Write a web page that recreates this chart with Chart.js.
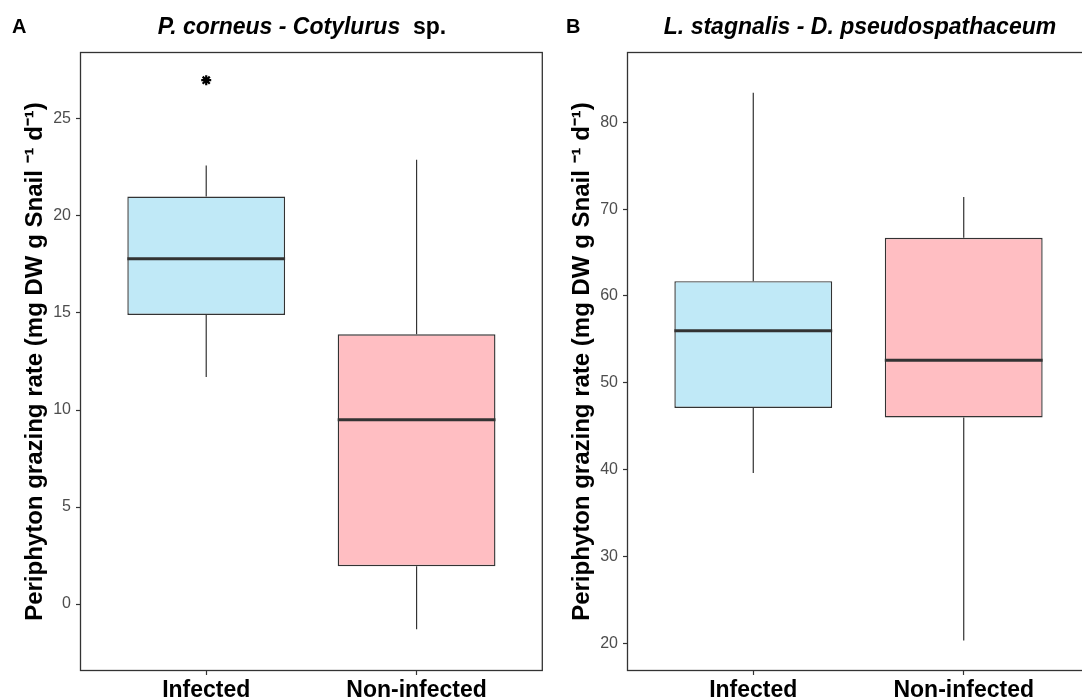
<!DOCTYPE html>
<html>
<head>
<meta charset="utf-8">
<script src="https://cdn.jsdelivr.net/npm/chart.js@4.4.1/dist/chart.umd.min.js"></script>
<style>
  html, body { margin: 0; padding: 0; width: 1082px; height: 699px; overflow: hidden; background: #fff;
    font-family: "Liberation Sans", Arial, sans-serif; }
  .panel { position: absolute; top: 0; width: 550px; height: 699px; }
  #panelA { left: 0; }
  #panelB { left: 547px; }
  .panel canvas { position: absolute; left: 0; top: 0; }
  .tag { position: absolute; top: 15px; font-weight: bold; font-size: 20px; color: #000; }
  .title { position: absolute; top: 13px; font-weight: bold; font-size: 23px; color: #000;
    white-space: nowrap; transform: translateX(-50%); }
</style>
</head>
<body>
<div class="panel" id="panelA">
  <canvas id="chartA" width="550" height="699"></canvas>
  <div class="tag" style="left:12px">A</div>
  <div class="title" style="left:302px"><i>P. corneus - Cotylurus</i>&nbsp; sp.</div>
</div>
<div class="panel" id="panelB">
  <canvas id="chartB" width="550" height="699"></canvas>
  <div class="tag" style="left:19px">B</div>
  <div class="title" style="left:313px"><i>L. stagnalis - D. pseudospathaceum</i></div>
</div>
<script>
// --- data ---
const categories = ["Infected", "Non-infected"];
const boxColors = ["#c0e9f7", "#ffbec2"];
const yTitle = "Periphyton grazing rate (mg DW g Snail \u207B\u00B9 d\u207B\u00B9)";

// panel A: P. corneus - Cotylurus sp.
const lowA = [11.7, -1.3];
const q1A = [14.9, 1.95];
const medA = [17.8, 9.5];
const q3A = [21.0, 13.9];
const highA = [22.6, 22.9];
const outA = [[27.0], []];
const ticksA = [0, 5, 10, 15, 20, 25];
const rangeA = [-3.45, 28.45];

// panel B: L. stagnalis - D. pseudospathaceum
const lowB = [39.6, 20.3];
const q1B = [47.1, 46.0];
const medB = [56.0, 52.6];
const q3B = [61.7, 66.7];
const highB = [83.4, 71.4];
const outB = [[], []];
const ticksB = [20, 30, 40, 50, 60, 70, 80];
const rangeB = [16.8, 88.1];

const BOX_W = 0.75;
const DARK = "#333333";

Chart.defaults.font.family = '"Liberation Sans", Arial, sans-serif';

// cadre autour du panneau
const panelBorder = {
  id: "panelBorder",
  afterDatasetsDraw(chart) {
    const { ctx, chartArea: { left, top, right, bottom } } = chart;
    ctx.save();
    ctx.strokeStyle = DARK;
    ctx.lineWidth = 1.3;
    ctx.strokeRect(left + 0.5, top + 0.5, right - left - 1, bottom - top - 1);
    ctx.restore();
  },
};

function makeBoxChart(id, low, q1, med, q3, high, outs, ticks, range) {
  const whiskers = [];
  const medians = [];
  const outliers = [];
  categories.forEach((c, i) => {
    const x = i + 1;
    whiskers.push({ x, y: low[i] }, { x, y: q1[i] }, { x, y: null },
                  { x, y: q3[i] }, { x, y: high[i] }, { x, y: null });
    medians.push({ x: x - BOX_W / 2, y: med[i] }, { x: x + BOX_W / 2, y: med[i] }, { x: x + 0.5, y: null });
    outs[i].forEach((v) => outliers.push({ x, y: v }));
  });

  const axisGrid = { drawOnChartArea: false, drawTicks: true, tickLength: 4, tickColor: DARK, tickWidth: 1.2, offset: false };

  return new Chart(document.getElementById(id), {
    type: "bar",
    data: {
      datasets: [
        {
          type: "line", data: medians, borderColor: DARK, borderWidth: 3,
          pointRadius: 0, spanGaps: false, order: 0,
        },
        {
          type: "line", data: whiskers, borderColor: DARK, borderWidth: 1.2,
          pointRadius: 0, spanGaps: false, order: 0,
        },
        {
          type: "line", data: outliers, showLine: false, pointStyle: "star",
          pointRadius: 5, borderWidth: 2.2, borderColor: "#000", order: 0,
        },
        {
          type: "bar",
          data: categories.map((c, i) => ({ x: i + 1, y: [q1[i], q3[i]] })),
          backgroundColor: boxColors, borderColor: DARK, borderWidth: 1.4,
          borderSkipped: false, barPercentage: BOX_W, categoryPercentage: 1, order: 1,
        },
      ],
    },
    options: {
      responsive: false,
      animation: false,
      layout: { padding: { top: 52, right: 7, left: 0, bottom: 0 } },
      plugins: { legend: { display: false }, tooltip: { enabled: false } },
      scales: {
        x: {
          type: "linear", min: 0.4, max: 2.6, offset: false,
          afterBuildTicks: (s) => { s.ticks = categories.map((c, i) => ({ value: i + 1 })); },
          afterFit: (s) => { s.height = 28; },
          grid: axisGrid,
          border: { display: false },
          ticks: {
            callback: (v) => categories[Math.round(v) - 1],
            color: "#000", font: { size: 23, weight: "bold" }, padding: 2,
            autoSkip: false, maxRotation: 0,
          },
        },
        y: {
          min: range[0], max: range[1],
          afterBuildTicks: (s) => { s.ticks = ticks.map((v) => ({ value: v })); },
          afterFit: (s) => { s.width = 80; },
          grid: axisGrid,
          border: { display: false },
          ticks: { color: "#4d4d4d", font: { size: 16 }, padding: 5 },
          title: {
            display: true, text: yTitle, color: "#000",
            font: { size: 24, weight: "bold" }, padding: { top: 21, bottom: 0 },
          },
        },
      },
    },
    plugins: [panelBorder],
  });
}

makeBoxChart("chartA", lowA, q1A, medA, q3A, highA, outA, ticksA, rangeA);
makeBoxChart("chartB", lowB, q1B, medB, q3B, highB, outB, ticksB, rangeB);
</script>
</body>
</html>
